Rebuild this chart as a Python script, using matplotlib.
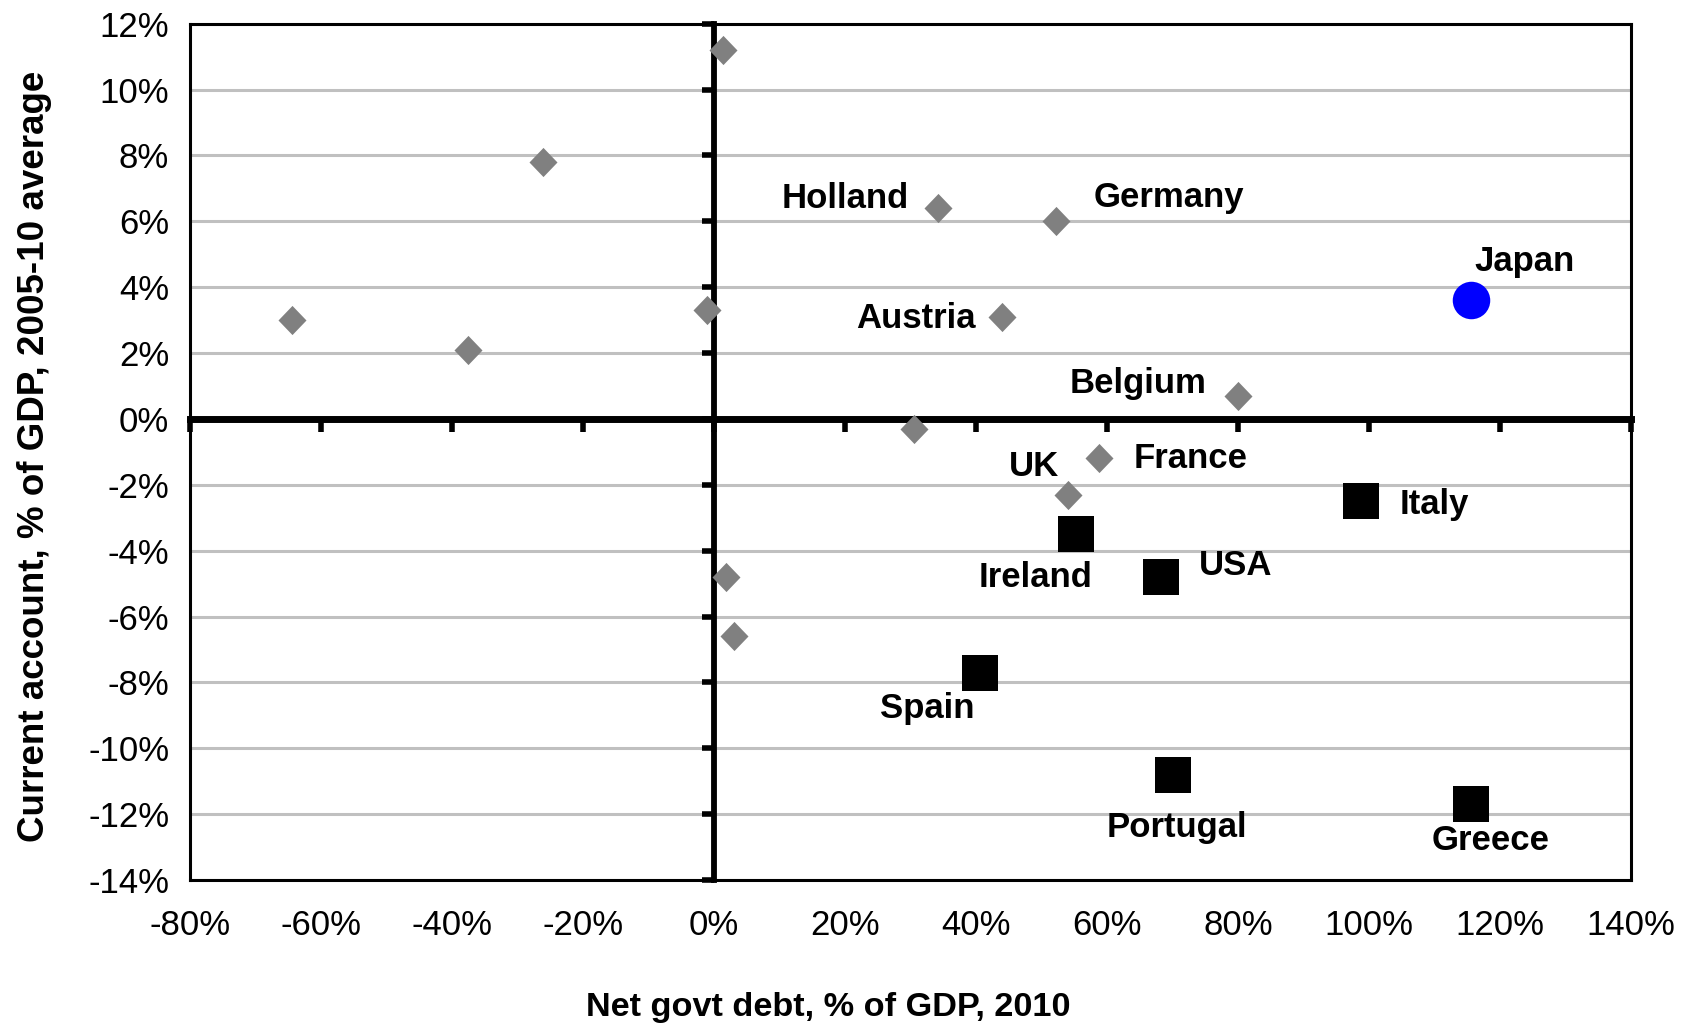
import matplotlib.pyplot as plt
from matplotlib.path import Path
from matplotlib.ticker import FuncFormatter, MultipleLocator

plt.rcParams['font.family'] = ['Liberation Sans', 'DejaVu Sans']

# net govt debt (% of GDP, 2010) vs current account (% of GDP, 2005-10 avg)
core_names = ['Holland', 'Germany', 'Austria', 'Belgium', 'France', 'UK']
core_debt = [34.2, 52.2, 44.0, 80.0, 58.8, 54.0]
core_ca = [6.4, 6.0, 3.1, 0.7, -1.2, -2.3]

# unlabelled economies
other_debt = [-64.4, -37.6, -26.1, -1.1, 1.3, 30.5, 1.8, 3.1]
other_ca = [3.0, 2.1, 7.8, 3.3, 11.2, -0.3, -4.8, -6.6]

deficit_names = ['Italy', 'Ireland', 'USA', 'Spain', 'Portugal', 'Greece']
deficit_debt = [98.7, 55.2, 68.3, 40.6, 70.0, 115.6]
deficit_ca = [-2.5, -3.5, -4.8, -7.7, -10.8, -11.7]

japan_name = 'Japan'
japan_debt = [115.6]
japan_ca = [3.6]

# label placement (offset in points, horizontal alignment)
label_pos = {
    'Holland': ((-21, 7), 'right'),
    'Germany': ((27, 17), 'left'),
    'Austria': ((-19, -1), 'right'),
    'Belgium': ((-23, 9), 'right'),
    'France': ((25, 0), 'left'),
    'UK': ((-6, 20), 'right'),
    'Italy': ((28, -2), 'left'),
    'Ireland': ((12, -31), 'right'),
    'USA': ((27, 8), 'left'),
    'Spain': ((-4, -26), 'right'),
    'Portugal': ((3, -38), 'center'),
    'Greece': ((14, -26), 'center'),
    'Japan': ((2, 28), 'left'),
}

fig = plt.figure(figsize=(16.86, 10.27), dpi=100)
rect = [0.1127, 0.1431, 0.8547, 0.8338]

# outer frame with gridlines and tick labels
frame = fig.add_axes(rect)
frame.set_xlim(-80, 140)
frame.set_ylim(-14, 12)
frame.xaxis.set_major_locator(MultipleLocator(20))
frame.yaxis.set_major_locator(MultipleLocator(2))
pct = FuncFormatter(lambda v, _: f'{v:.0f}%')
frame.xaxis.set_major_formatter(pct)
frame.yaxis.set_major_formatter(pct)
frame.yaxis.grid(True, color='#c0c0c0', lw=2.2)
frame.set_axisbelow(True)
frame.tick_params(axis='both', length=0, labelsize=25)
frame.tick_params(axis='x', pad=21)
frame.tick_params(axis='y', pad=15)
for s in frame.spines.values():
    s.set_linewidth(2.2)
    s.set_color('black')

frame.set_xlabel('Net govt debt, % of GDP, 2010', fontsize=24.7, fontweight='bold')
frame.set_ylabel('Current account, % of GDP, 2005-10 average', fontsize=26.5, fontweight='bold')
frame.xaxis.set_label_coords(0.443, -0.149)
frame.xaxis.label.set_va('center')
frame.yaxis.set_label_coords(-0.108, 0.495)
frame.yaxis.label.set_va('center')

# axes crossing at zero, with the data on top
ax = fig.add_axes(rect, sharex=frame, sharey=frame)
ax.patch.set_visible(False)
ax.spines['top'].set_visible(False)
ax.spines['right'].set_visible(False)
ax.spines['left'].set_position(('data', 0))
ax.spines['bottom'].set_position(('data', 0))
ax.spines['left'].set_linewidth(4.2)
ax.spines['bottom'].set_linewidth(5)
ax.tick_params(axis='both', direction='out', labelleft=False, labelbottom=False,
               width=4, length=9, color='black')

diamond = Path([(0, 1), (0.96, 0), (0, -1), (-0.96, 0), (0, 1)],
               [Path.MOVETO, Path.LINETO, Path.LINETO, Path.LINETO, Path.CLOSEPOLY])

ax.plot(other_debt, other_ca, linestyle='none', marker=diamond, ms=21,
        color='#808080', mew=0, zorder=5, clip_on=False)
ax.plot(core_debt, core_ca, linestyle='none', marker=diamond, ms=21,
        color='#808080', mew=0, zorder=5, clip_on=False)
ax.plot(deficit_debt, deficit_ca, linestyle='none', marker='s', ms=26,
        color='black', mew=0, zorder=5)
ax.plot(japan_debt, japan_ca, linestyle='none', marker='o', ms=27,
        color='#0000ff', mew=0, zorder=5)

names = core_names + deficit_names + [japan_name]
xs = core_debt + deficit_debt + japan_debt
ys = core_ca + deficit_ca + japan_ca
for name, x, y in zip(names, xs, ys):
    off, ha = label_pos[name]
    ax.annotate(name, (x, y), xytext=off, textcoords='offset points',
                ha=ha, va='center', fontsize=25, fontweight='bold', zorder=6)

plt.savefig('out.png', dpi=100)
